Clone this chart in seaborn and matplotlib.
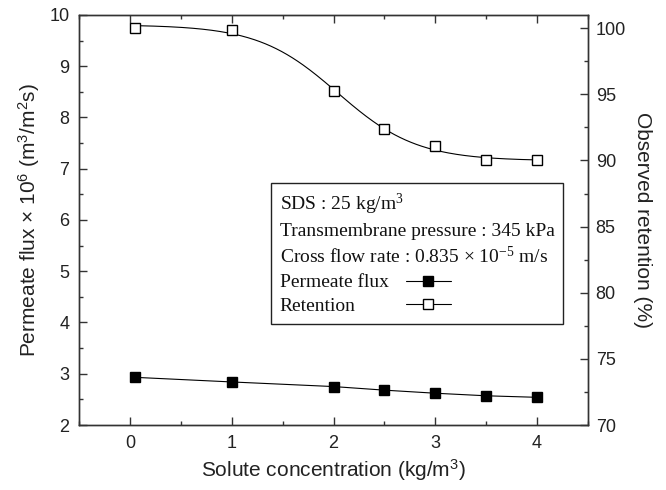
import numpy as np
import pandas as pd
import matplotlib
matplotlib.use("Agg")
import matplotlib.pyplot as plt
import seaborn as sns
from matplotlib.lines import Line2D
from matplotlib.ticker import MultipleLocator, FixedLocator
from matplotlib.font_manager import FontProperties

# ---- data ----
concentration = [0.05, 1.0, 2.0, 2.5, 3.0, 3.5, 4.0]
permeate_flux = [2.93, 2.84, 2.75, 2.68, 2.62, 2.57, 2.54]
retention = [100.0, 99.85, 95.25, 92.4, 91.1, 90.0, 90.0]

x_ticks = [0, 1, 2, 3, 4]
flux_ticks = [2, 3, 4, 5, 6, 7, 8, 9, 10]
retention_ticks = [70, 75, 80, 85, 90, 95, 100]

legend_labels = ["SDS : 25 kg/m$\\mathregular{^3}$",
                 "Transmembrane pressure : 345 kPa",
                 "Cross flow rate : 0.835 \u00d7 10$\\mathregular{^{-5}}$ m/s",
                 "Permeate flux",
                 "Retention"]

x_label = "Solute concentration (kg/m$\\mathregular{^3}$)"
y_label_left = "Permeate flux \u00d7 10$\\mathregular{^6}$ (m$\\mathregular{^3}$/m$\\mathregular{^2}$s)"
y_label_right = "Observed retention (%)"


def sigmoid_fit(x, y, n=300):
    """Least-squares Boltzmann sigmoid fitted to the measured points."""
    x = np.asarray(x, float)
    y = np.asarray(y, float)
    best = None
    for x0 in np.linspace(1.0, 3.5, 126):
        for dx in np.linspace(0.1, 1.2, 111):
            s = 1.0 / (1.0 + np.exp((x - x0) / dx))
            A = np.column_stack([s, 1 - s])
            coef, *_ = np.linalg.lstsq(A, y, rcond=None)
            err = np.sum((A @ coef - y) ** 2)
            if best is None or err < best[0]:
                best = (err, x0, dx, coef)
    _, x0, dx, (a1, a2) = best
    xs = np.linspace(x[0], x[-1], n)
    s = 1.0 / (1.0 + np.exp((xs - x0) / dx))
    return xs, a1 * s + a2 * (1 - s)


df = pd.DataFrame({"c": concentration, "flux": permeate_flux, "ret": retention})
xs, ys = sigmoid_fit(concentration, retention)
curve = pd.DataFrame({"c": xs, "ret": ys})

sns.set_theme(style="ticks")
plt.rcParams["font.family"] = ["Liberation Sans", "DejaVu Sans"]
plt.rcParams["axes.edgecolor"] = "#333333"
plt.rcParams["axes.linewidth"] = 1.0

fig = plt.figure(figsize=(6.66, 4.90), dpi=100)
ax = fig.add_axes([79 / 666, 1 - 425 / 490, (588 - 79) / 666, (425 - 15) / 490])
ax2 = ax.twinx()

line_kw = dict(color="black", linewidth=0.8)
mk = dict(marker="s", markersize=6.5, markeredgewidth=1.0, markeredgecolor="black")

sns.lineplot(data=df, x="c", y="flux", ax=ax, markerfacecolor="black", **line_kw, **mk)
sns.lineplot(data=curve, x="c", y="ret", ax=ax2, **line_kw)
sns.lineplot(data=df, x="c", y="ret", ax=ax2, linestyle="none", color="black",
             markerfacecolor="white", zorder=5, **mk)

ax.set_xlim(-0.5, 4.5)
ax.set_ylim(2, 10)
ax2.set_ylim(70, 101)

ax.xaxis.set_major_locator(FixedLocator(x_ticks))
ax.xaxis.set_minor_locator(MultipleLocator(0.5))
ax.yaxis.set_major_locator(FixedLocator(flux_ticks))
ax.yaxis.set_minor_locator(MultipleLocator(0.5))
ax2.yaxis.set_major_locator(FixedLocator(retention_ticks))
ax2.yaxis.set_minor_locator(MultipleLocator(2.5))

tick_font = 13
ax.tick_params(axis="both", which="both", direction="in", top=True, right=False,
               color="#333333", labelsize=tick_font, labelcolor="#222222")
ax.tick_params(which="major", length=5.5, width=1.0)
ax.tick_params(which="minor", length=3.0, width=1.0)
ax.tick_params(axis="x", pad=7)
ax.tick_params(axis="y", pad=7)
ax2.tick_params(axis="y", which="both", direction="in", right=True, left=False,
                color="#333333", labelsize=tick_font, labelcolor="#222222", pad=5.5)
ax2.tick_params(axis="y", which="major", length=5.5, width=1.0)
ax2.tick_params(axis="y", which="minor", length=3.0, width=1.0)

ax.set_xlabel(x_label, fontsize=15, color="#222222", labelpad=4)
ax.set_ylabel(y_label_left, fontsize=15, color="#222222", labelpad=5)
ax2.set_ylabel(y_label_right, fontsize=15, color="#222222", rotation=270,
               labelpad=19)

# ---- legend box ----
blank = [Line2D([], [], linestyle="none") for _ in range(3)]
h_flux = Line2D([], [], markerfacecolor="black", **line_kw, **mk)
h_ret = Line2D([], [], markerfacecolor="white", **line_kw, **mk)
leg = ax2.legend(blank + [h_flux, h_ret], legend_labels,
                 loc="upper left", bbox_to_anchor=(271 / 666, 1 - 183 / 490),
                 bbox_transform=fig.transFigure, borderaxespad=0,
                 markerfirst=False, frameon=True, fancybox=False,
                 edgecolor="#222222", framealpha=1, numpoints=1,
                 prop=FontProperties(family="Liberation Serif", size=14),
                 handlelength=2.3, handletextpad=0.9, labelspacing=0.32,
                 borderpad=0.45)
leg.get_frame().set_linewidth(1.0)
for t in leg.get_texts():
    t.set_color("#111111")

fig.canvas.draw()
renderer = fig.canvas.get_renderer()
col = leg._legend_handle_box.get_children()[0]
col.align = "left"
rows = col.get_children()
texts = leg.get_texts()
for row in rows[:3]:
    row._children = row._children[:1]
widths = [t.get_window_extent(renderer).width for t in texts]
maxw = max(widths[3:])
for row, w in zip(rows[3:], widths[3:]):
    row.sep = row.sep + (maxw - w) * 72.0 / fig.dpi

fig.savefig("out.png", dpi=100)
